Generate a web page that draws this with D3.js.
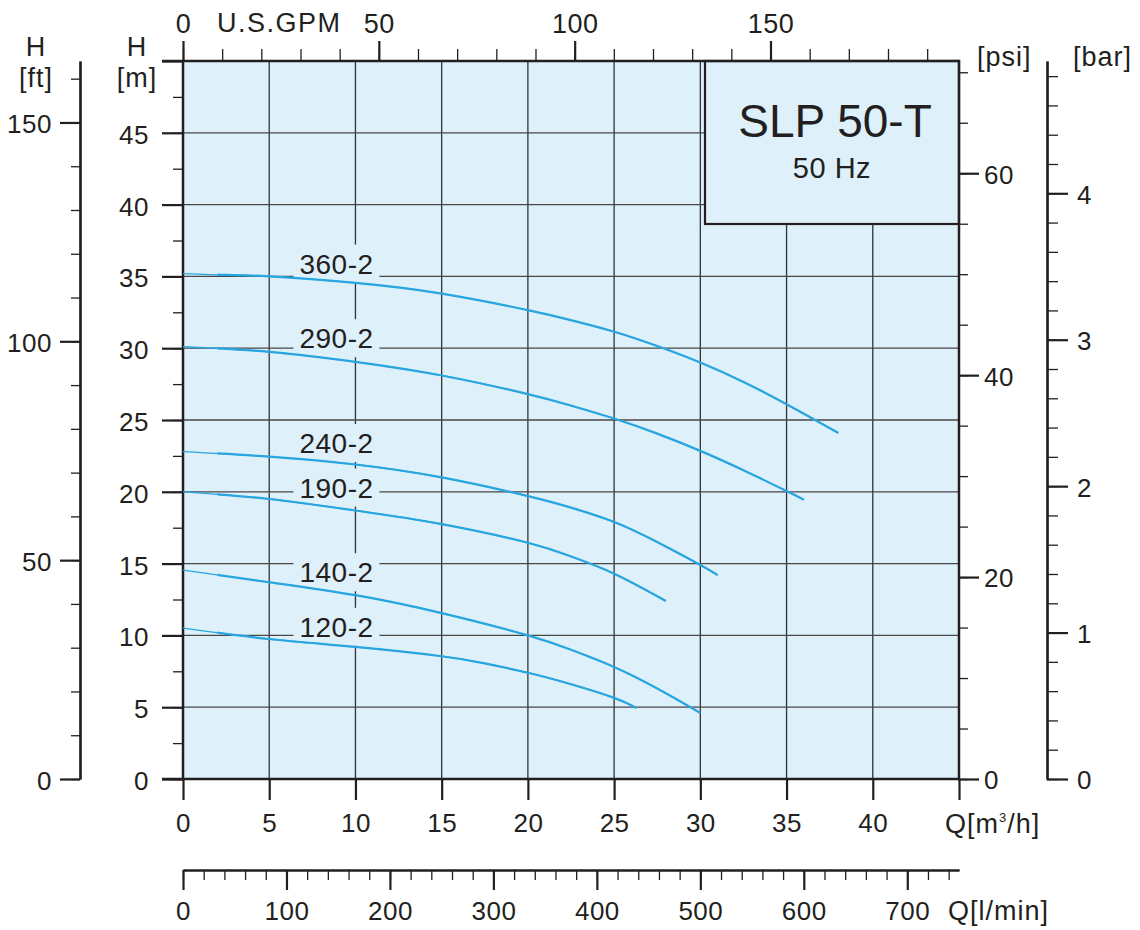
<!DOCTYPE html>
<html>
<head>
<meta charset="utf-8">
<script src="https://cdn.jsdelivr.net/npm/d3@7"></script>
<style>
  body { margin: 0; background: #fff; }
  svg { font-family: "Liberation Sans", Arial, sans-serif; }
</style>
</head>
<body>
<svg width="1140" height="930"></svg>
<script>
// pump models and their curves (Q in m3/h, H in m)
let models = ["360-2", "290-2", "240-2", "190-2", "140-2", "120-2"];
let flows = [
  [0, 2.5, 5, 10, 15, 20, 22.5, 25, 27.5, 30, 32.5, 35, 38],
  [0, 5, 10, 15, 20, 22.5, 25, 27.5, 30, 32.5, 35, 36],
  [0, 5, 10, 15, 20, 22.5, 25, 27.5, 30, 31],
  [0, 5, 10, 15, 20, 22.5, 25, 28],
  [0, 5, 10, 15, 20, 22.5, 25, 27.5, 30],
  [0, 5, 10, 15, 17.5, 20, 22.5, 25, 26.3]
];
let heads = [
  [35.2, 35.1, 35.0, 34.55, 33.8, 32.65, 31.95, 31.15, 30.15, 29.0, 27.65, 26.1, 24.1],
  [30.1, 29.75, 29.05, 28.1, 26.8, 26.0, 25.1, 24.05, 22.85, 21.5, 20.05, 19.45],
  [22.8, 22.45, 21.9, 21.0, 19.7, 18.9, 17.9, 16.5, 14.9, 14.2],
  [20.0, 19.5, 18.7, 17.75, 16.45, 15.5, 14.3, 12.4],
  [14.55, 13.7, 12.8, 11.55, 10.0, 9.0, 7.8, 6.3, 4.6],
  [10.5, 9.75, 9.2, 8.55, 8.05, 7.4, 6.6, 5.65, 4.95]
];
// head level where each model name sits
let labelHeads = [35.2, 30.0, 22.7, 19.6, 13.7, 9.9];

let qTicks = [0, 5, 10, 15, 20, 25, 30, 35, 40, 45];
let hTicks = [0, 5, 10, 15, 20, 25, 30, 35, 40, 45, 50];
let ftTicks = [0, 50, 100, 150];
let psiTicks = [0, 20, 40, 60];
let barTicks = [0, 1, 2, 3, 4];
let gpmTicks = [0, 50, 100, 150];
let lminTicks = [0, 100, 200, 300, 400, 500, 600, 700];

let ink = "#231f20";
let curveColor = "#29a6df";
let plotFill = "#def0fa";

let svg = d3.select("svg");

let pLeft = 183, pRight = 959, pTop = 61, pBottom = 779;

let x = d3.scaleLinear().domain([0, 45]).range([pLeft, pRight]);
let y = d3.scaleLinear().domain([0, 50]).range([pBottom, pTop]);
let yFt = d3.scaleLinear().domain([0, 50 / 0.3048]).range([pBottom, pTop]);
let yPsi = d3.scaleLinear().domain([0, 50 / 0.70307]).range([pBottom, pTop]);
let yBar = d3.scaleLinear().domain([0, 50 / 10.197]).range([pBottom, pTop]);
let xGpm = d3.scaleLinear().domain([0, 45 / 0.227125]).range([pLeft, pRight]);
let xLmin = d3.scaleLinear().domain([0, 750]).range([pLeft, pRight]);

// plot background
svg.append("rect")
    .attr("x", pLeft).attr("y", pTop)
    .attr("width", pRight - pLeft).attr("height", pBottom - pTop)
    .attr("fill", plotFill);

// grid
svg.append("g").selectAll("line")
    .data(qTicks.filter(d => d > 0 && d < 45))
    .enter().append("line")
    .attr("x1", d => x(d)).attr("x2", d => x(d))
    .attr("y1", pTop).attr("y2", pBottom)
    .attr("stroke", "#333").attr("stroke-width", 1.3);

svg.append("g").selectAll("line")
    .data(hTicks.filter(d => d > 0 && d < 50))
    .enter().append("line")
    .attr("x1", pLeft).attr("x2", pRight)
    .attr("y1", d => y(d)).attr("y2", d => y(d))
    .attr("stroke", "#474747").attr("stroke-width", 1.3);

// title box
svg.append("rect")
    .attr("x", 705).attr("y", pTop)
    .attr("width", pRight - 705).attr("height", 224 - pTop)
    .attr("fill", plotFill).attr("stroke", ink).attr("stroke-width", 2.2);
svg.append("text").attr("x", 835).attr("y", 137)
    .attr("text-anchor", "middle").attr("font-size", 46).attr("fill", ink)
    .text("SLP 50-T");
svg.append("text").attr("x", 832).attr("y", 178)
    .attr("text-anchor", "middle").attr("font-size", 29).attr("letter-spacing", 0.5).attr("fill", ink)
    .text("50 Hz");

// helper: draw an axis with minor + major ticks
function drawAxis(make, scale, transform, minorVals, majorVals, minorSize, majorSize, pad, showDomain, fmt) {
  let g = svg.append("g").attr("transform", transform);
  let gMinor = g.append("g").call(make(scale).tickValues(minorVals).tickSize(minorSize).tickSizeOuter(0).tickFormat(""));
  let gMajor = g.append("g").call(make(scale).tickValues(majorVals).tickSize(majorSize).tickSizeOuter(0).tickPadding(pad)
      .tickFormat(fmt || (d => d)));
  g.selectAll(".domain").attr("stroke", showDomain ? ink : "none").attr("stroke-width", 2.2);
  gMinor.selectAll(".tick line").attr("stroke", ink).attr("stroke-width", 1.3);
  gMajor.selectAll(".tick line").attr("stroke", ink).attr("stroke-width", 2.2);
  g.selectAll("text").attr("fill", ink).attr("font-size", 26).attr("letter-spacing", 0.5)
      .attr("font-family", "'Liberation Sans', Arial, sans-serif");
  return g;
}

// left H [m]
let gm = drawAxis(d3.axisLeft, y, `translate(${pLeft},0)`, d3.range(0, 50, 2.5), hTicks, 10, 21, 13, false,
    d => d === 50 ? "" : d);
gm.selectAll("text").attr("dy", "0.4em");

// far left H [ft]
let gft = drawAxis(d3.axisLeft, yFt, "translate(80,0)", d3.range(0, 161, 10), ftTicks, 9, 20, 8, true);
gft.selectAll("text").attr("dy", "0.4em");

// psi
let gpsi = drawAxis(d3.axisRight, yPsi, `translate(${pRight - 1},0)`, d3.range(0, 71, 5), psiTicks, 10, 21, 5, false);
gpsi.selectAll("text").attr("dy", "0.38em");

// bar
let gbar = drawAxis(d3.axisRight, yBar, "translate(1047,0)", d3.range(0, 4.81, 0.2), barTicks, 11, 21, 9, true);
gbar.selectAll("text").attr("dy", "0.38em");

// bottom Q [m3/h]
drawAxis(d3.axisBottom, x, `translate(0,${pBottom})`, [], qTicks, 0, 21, 14, false, d => d === 45 ? "" : d);

// top U.S.GPM
let ggpm = drawAxis(d3.axisTop, xGpm, `translate(0,${pTop})`, d3.range(0, 191, 10), gpmTicks, 12, 20, 8, false);
ggpm.selectAll("text").attr("font-size", 27);

// Q [l/min]
drawAxis(d3.axisBottom, xLmin, "translate(0,870)", d3.range(0, 741, 20), lminTicks, 10, 20, 12, true);

// frame
svg.append("path")
    .attr("d", `M${pLeft - 21},${pTop}H${pRight}V${pBottom}M${pLeft},${pTop}V${pBottom}M${pLeft - 21},${pBottom}H${pRight}`)
    .attr("fill", "none").attr("stroke", ink).attr("stroke-width", 2.5);

// unit labels
let unitText = [
  { t: "H", x: 36, y: 56, a: "middle" },
  { t: "[ft]", x: 36, y: 87, a: "middle" },
  { t: "H", x: 137, y: 56, a: "middle" },
  { t: "[m]", x: 137, y: 87, a: "middle" },
  { t: "[psi]", x: 977, y: 66, a: "start" },
  { t: "[bar]", x: 1073, y: 66, a: "start" },
  { t: "U.S.GPM", x: 217, y: 32, a: "start" },
  { t: "Q[l/min]", x: 948, y: 920, a: "start" }
];
svg.append("g").selectAll("text")
    .data(unitText).enter().append("text")
    .attr("x", d => d.x).attr("y", d => d.y)
    .attr("text-anchor", d => d.a)
    .attr("font-size", 27)
    .attr("letter-spacing", d => d.t === "U.S.GPM" ? 1.5 : 1)
    .attr("fill", ink)
    .text(d => d.t);

let qUnit = svg.append("text").attr("x", 945).attr("y", 833)
    .attr("font-size", 27).attr("letter-spacing", 1).attr("fill", ink);
qUnit.append("tspan").text("Q[m");
qUnit.append("tspan").attr("font-size", 13).attr("dy", -11).text("3");
qUnit.append("tspan").attr("dy", 11).text("/h]");

// model label patches cut the grid (drawn under the curves)
let labPos = (d, i) => `translate(${x(8.9)},${y(labelHeads[i])})`;
svg.append("g").selectAll("rect")
    .data(models)
    .enter().append("rect")
    .attr("transform", labPos)
    .attr("x", -43).attr("y", -29).attr("width", 86).attr("height", 38)
    .attr("fill", plotFill);

// curves: thin start near Q=0, full weight after
let line = d3.line()
    .x(d => x(d[0]))
    .y(d => y(d[1]))
    .curve(d3.curveNatural);

svg.append("clipPath").attr("id", "afterStart")
    .append("rect")
    .attr("x", x(2)).attr("y", pTop)
    .attr("width", pRight - x(2)).attr("height", pBottom - pTop);

let curveData = models.map((m, i) => flows[i].map((q, j) => [q, heads[i][j]]));

svg.append("g").selectAll("path")
    .data(curveData)
    .enter().append("path")
    .attr("d", line)
    .attr("fill", "none")
    .attr("stroke", curveColor)
    .attr("stroke-width", 1.3);

svg.append("g").attr("clip-path", "url(#afterStart)")
    .selectAll("path")
    .data(curveData)
    .enter().append("path")
    .attr("d", line)
    .attr("fill", "none")
    .attr("stroke", curveColor)
    .attr("stroke-width", 2.2);

// model labels
svg.append("g").selectAll("text")
    .data(models)
    .enter().append("text")
    .attr("transform", labPos)
    .attr("text-anchor", "middle")
    .attr("font-size", 28)
    .attr("letter-spacing", 0.5)
    .attr("fill", ink)
    .text(d => d);
</script>
</body>
</html>
